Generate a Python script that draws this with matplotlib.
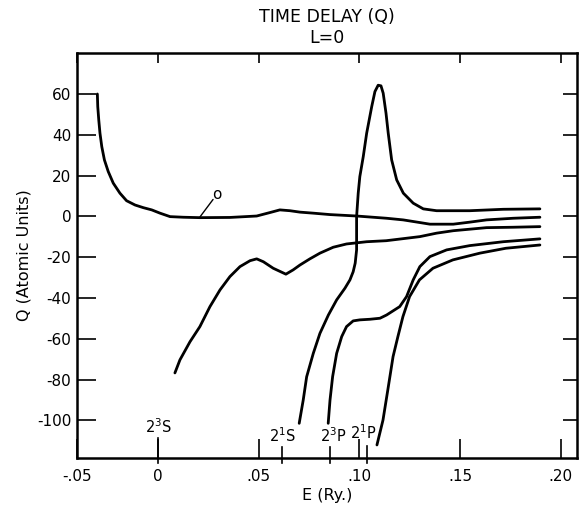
import numpy as np
import matplotlib.pyplot as plt

plt.rcParams['font.family'] = ['DejaVu Sans']
plt.rcParams['axes.unicode_minus'] = False
plt.rcParams['mathtext.default'] = 'regular'

# curve A: starts at 60 near the left edge, small bump at 2^1S
a_e = [-0.0301, -0.0299, -0.0294, -0.0288, -0.0279, -0.0266, -0.0247, -0.0222,
       -0.0189, -0.0156, -0.0114, -0.0073, -0.0031, 0.001, 0.006, 0.0126,
       0.0208, 0.0357, 0.049, 0.0556, 0.0605, 0.0655, 0.0705, 0.0771, 0.0854,
       0.0986, 0.1135, 0.1217, 0.13, 0.135, 0.1466, 0.1548, 0.1631, 0.1763,
       0.1896]
a_q = [60.0, 53.8, 47.3, 40.8, 34.2, 27.7, 22.0, 16.3, 11.4, 7.7, 5.6, 4.3, 3.2,
       1.6, -0.1, -0.4, -0.6, -0.5, 0.2, 1.9, 3.2, 2.8, 2.1, 1.6, 0.9, 0.2,
       -0.9, -1.7, -3.0, -3.8, -3.8, -2.8, -1.7, -0.9, -0.4]

# curve B: rises from -77, cusp at 2^1S
b_e = [0.0084, 0.0109, 0.0159, 0.0208, 0.0258, 0.0308, 0.0357, 0.0407, 0.0457,
       0.049, 0.0523, 0.0572, 0.0635, 0.0671, 0.0705, 0.0754, 0.0804, 0.087,
       0.0936, 0.1036, 0.1133, 0.13, 0.1383, 0.1466, 0.1631, 0.1763, 0.1896]
b_q = [-76.7, -70.3, -61.4, -54.0, -44.2, -36.0, -29.5, -24.6, -21.7, -20.8,
       -22.2, -25.4, -28.3, -26.2, -23.8, -20.8, -18.0, -15.1, -13.5, -12.4,
       -11.9, -9.9, -8.2, -7.0, -5.5, -5.3, -5.0]

# curve C: opens at 2^1S, resonance peak near .11
c_e = [0.0701, 0.0721, 0.0738, 0.0771, 0.0804, 0.0846, 0.0887, 0.0928, 0.0953,
       0.0969, 0.0979, 0.0986, 0.0986, 0.0986, 0.0994, 0.1002, 0.1019, 0.1036,
       0.1061, 0.1077, 0.1093, 0.1107, 0.1118, 0.1132, 0.1143, 0.116, 0.1185,
       0.1218, 0.1267, 0.1317, 0.1383, 0.1548, 0.1714, 0.1896]
c_q = [-101.4, -90.0, -78.6, -67.1, -57.3, -48.3, -40.9, -35.2, -31.1, -27.1,
       -22.9, -16.4, -13.1, -0.1, 11.4, 19.5, 29.3, 40.8, 53.8, 61.2, 64.3,
       64.0, 60.4, 50.6, 40.8, 27.7, 17.9, 11.4, 6.5, 3.7, 2.8, 2.8, 3.5, 3.7]

# curve D: opens at 2^3P
d_e = [0.0845, 0.0854, 0.0867, 0.0887, 0.0912, 0.0936, 0.0969, 0.1002, 0.1052,
       0.1102, 0.1135, 0.12, 0.1234, 0.1267, 0.13, 0.135, 0.1433, 0.1548,
       0.1714, 0.1896]
d_q = [-101.4, -90.0, -78.5, -67.1, -58.9, -54.0, -51.2, -50.7, -50.4, -49.9,
       -48.3, -44.2, -39.3, -31.1, -24.6, -19.7, -16.4, -14.3, -12.4, -11.0]

# curve E: opens at 2^1P
e_e = [0.1087, 0.1117, 0.1141, 0.1167, 0.1191, 0.1216, 0.1249, 0.1298, 0.1365,
       0.1464, 0.1598, 0.1727, 0.1896]
e_q = [-112.0, -99.8, -85.0, -68.7, -58.9, -49.1, -39.3, -31.1, -25.4, -21.3,
       -18.0, -15.6, -14.0]

thresholds = [0.0, 0.0617, 0.0856, 0.104]
threshold_names = ['2$^{3}$S', '2$^{1}$S', '2$^{3}$P', '2$^{1}$P']

x_ticks = [0.0, 0.05, 0.10, 0.15, 0.20]
x_labels = ['0', '.05', '.10', '.15', '.20']
y_ticks = [-100, -80, -60, -40, -20, 0, 20, 40, 60]

XMIN, XMAX = -0.0402, 0.208
YMIN, YMAX = -118.4, 80.1

fig = plt.figure(figsize=(5.79, 5.08), dpi=100)
ax = fig.add_axes([0.133, 0.0984, 0.8635, 0.7973])

for e, q in [(a_e, a_q), (b_e, b_q), (c_e, c_q), (d_e, d_q), (e_e, e_q)]:
    ax.plot(e, q, color='black', lw=2.0, solid_capstyle='round',
            solid_joinstyle='round')

ax.set_xlim(XMIN, XMAX)
ax.set_ylim(YMIN, YMAX)

ax.set_xticks([XMIN] + x_ticks)
ax.set_xticklabels(['-.05'] + x_labels)
ax.set_yticks(y_ticks)
ax.tick_params(direction='in', length=14, width=1.2, labelsize=11,
               colors='black', top=True, right=True)
ax.tick_params(axis='x', pad=8)
ax.tick_params(axis='y', pad=4)
# shorter ticks on the top and right sides
for t in ax.xaxis.get_major_ticks():
    t.tick2line.set_markersize(7)
for t in ax.yaxis.get_major_ticks():
    t.tick2line.set_markersize(10)
for sp in ax.spines.values():
    sp.set_linewidth(1.8)

# threshold marks
trans = ax.get_xaxis_transform()
tick_len = [0.05, 0.028, 0.028, 0.03]
label_y = [0.055, 0.033, 0.033, 0.04]
label_dx = [0, 0, 2, -3]
for xv, name, tl, ly, dx in zip(thresholds, threshold_names, tick_len,
                                label_y, label_dx):
    ax.plot([xv, xv], [-0.012, tl], transform=trans, color='black', lw=1.2,
            clip_on=False)
    ax.annotate(name, xy=(xv, ly), xycoords=trans, xytext=(dx, 0),
                textcoords='offset points', ha='center', va='bottom',
                fontsize=10.5)

ax.annotate('o', xy=(0.0208, -0.3), xytext=(0.0292, 11.5), fontsize=11,
            ha='center', va='center_baseline',
            arrowprops=dict(arrowstyle='-', lw=1.0, color='black',
                            patchA=None, shrinkA=4.5, shrinkB=0))

ax.set_title('TIME DELAY (Q)\nL=0', fontsize=12.5, pad=7, linespacing=1.25)
ax.set_xlabel('E (Ry.)', fontsize=11.5, labelpad=3)
ax.set_ylabel('Q (Atomic Units)', fontsize=11.5, labelpad=4)

plt.savefig('out.png', dpi=100)
